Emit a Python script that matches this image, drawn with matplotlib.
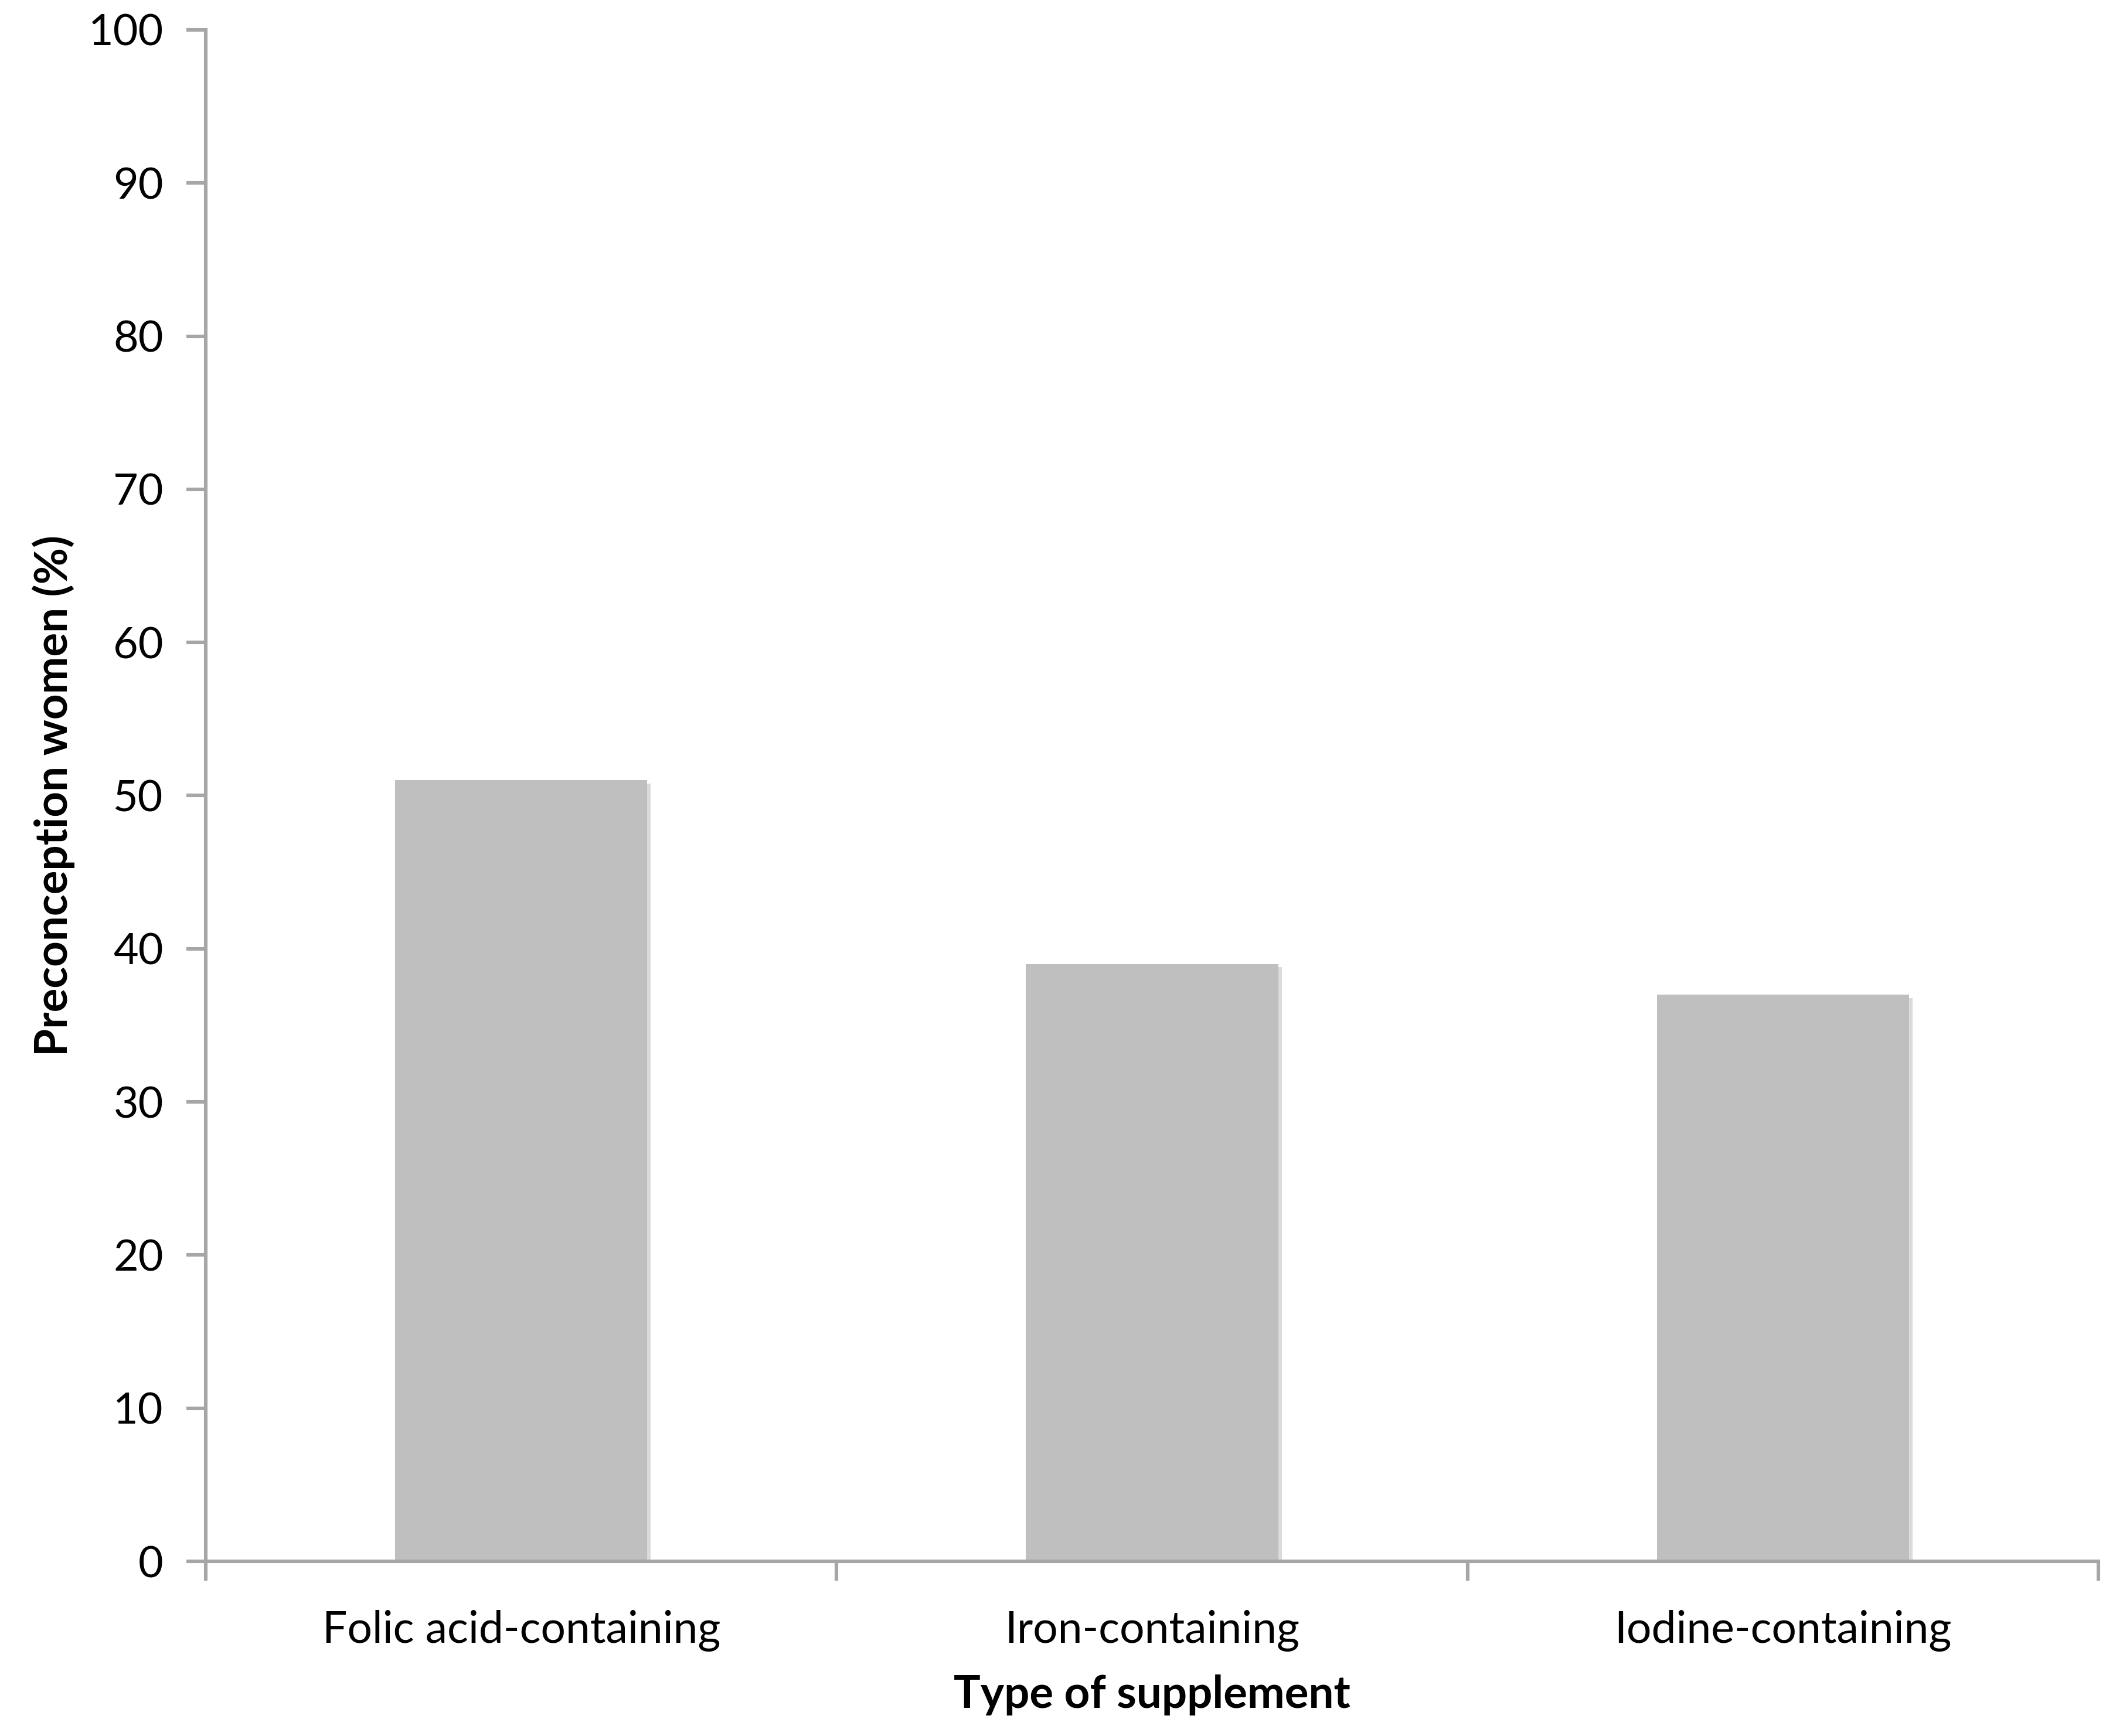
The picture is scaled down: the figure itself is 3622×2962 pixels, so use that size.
import matplotlib
matplotlib.use("Agg")
import matplotlib.pyplot as plt
import matplotlib.patheffects as pe

categories = ["Folic acid-containing", "Iron-containing", "Iodine-containing"]
values = [51, 39, 37]
yticks = [0, 10, 20, 30, 40, 50, 60, 70, 80, 90, 100]

plt.rcParams['font.family'] = ['Lato', 'DejaVu Sans']

fig = plt.figure(figsize=(18.11, 14.81), dpi=200)
ax = fig.add_axes([0.0969, 0.1006, 0.8916, 0.8822])

axis_color = "#A6A6A6"
x = list(range(len(categories)))
bars = ax.bar(x, values, width=0.4, color="#BFBFBF", zorder=2)
for b in bars:
    b.set_path_effects([pe.SimplePatchShadow(offset=(2, -2), shadow_rgbFace="#999999", alpha=0.35), pe.Normal()])

ax.set_xlim(-0.5, len(categories) - 0.5)
ax.set_ylim(0, 100)
ax.set_yticks(yticks)
ax.set_yticklabels([str(t) for t in yticks])
ax.set_xticks(x)
ax.set_xticklabels(categories)
ax.set_xticks([i - 0.5 for i in range(len(categories) + 1)], minor=True)

for s in ["top", "right"]:
    ax.spines[s].set_visible(False)
for s in ["left", "bottom"]:
    ax.spines[s].set_color(axis_color)
    ax.spines[s].set_linewidth(2.2)

ax.tick_params(axis='y', which='major', direction='out', length=12, width=2.2, color=axis_color,
               labelsize=26.5, labelcolor='black', pad=14)
ax.tick_params(axis='x', which='major', length=0, labelsize=27, labelcolor='black', pad=30)
ax.tick_params(axis='x', which='minor', direction='out', length=12, width=2.2, color=axis_color)

ax.set_ylabel("Preconception women (%)", fontsize=27.5, fontweight='bold', labelpad=8)
ax.set_xlabel("Type of supplement", fontsize=27.5, fontweight='bold', labelpad=14)

fig.savefig("out.png", dpi=200, facecolor="white")
